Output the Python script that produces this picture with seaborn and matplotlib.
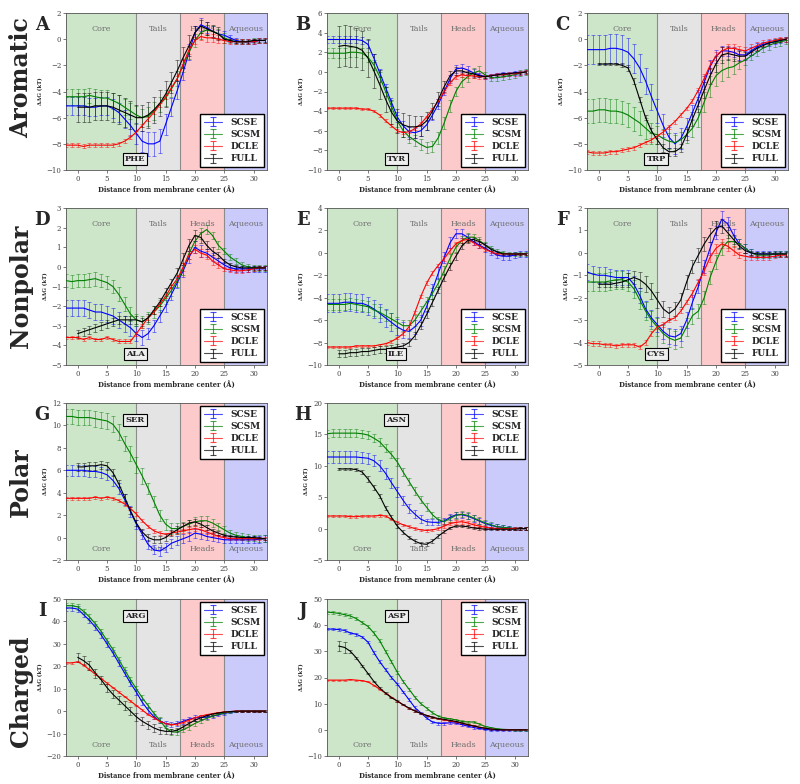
import numpy as np
import pandas as pd
import matplotlib
matplotlib.use("Agg")
import matplotlib.pyplot as plt
import seaborn as sns

# positions along the membrane normal (A); FULL runs start at the center
X_SIDE = list(range(-2, 33))
X_FULL = list(range(0, 33))
MODELS = ["SCSE", "SCSM", "DCLE", "FULL"]
COLORS = {"SCSE": "#0000ff", "SCSM": "#008000", "DCLE": "#ff0000", "FULL": "#000000"}

# ---- PHE ----
PHE_SCSE = [-5.1, -5.1, -5.1, -5.1, -5.2, -5.2, -5.1, -5.1, -5.3, -5.6,
            -6.1, -6.6, -7.2, -7.8, -8.0, -8.0, -7.8, -6.5, -5.2, -3.9,
            -2.5, -1.0, 0.5, 1.1, 0.9, 0.6, 0.4, 0.3, 0.1, -0.1,
            -0.2, -0.2, -0.2, -0.1, -0.1]
PHE_SCSE_ERR = [0.7, 0.7, 0.7, 0.7, 0.7, 0.7, 0.7, 0.7, 0.7, 0.7,
                0.7, 0.8, 0.8, 0.8, 0.9, 0.9, 0.9, 0.8, 0.7, 0.7,
                0.6, 0.6, 0.5, 0.5, 0.4, 0.4, 0.3, 0.3, 0.2, 0.2,
                0.2, 0.2, 0.2, 0.2, 0.2]
PHE_SCSM = [-4.4, -4.4, -4.4, -4.4, -4.3, -4.4, -4.5, -4.5, -4.7, -4.9,
            -5.2, -5.5, -5.8, -6.0, -5.9, -5.5, -5.0, -4.5, -3.8, -3.0,
            -2.0, -1.0, -0.1, 0.5, 0.7, 0.6, 0.4, 0.1, -0.1, -0.2,
            -0.2, -0.2, -0.1, -0.1, -0.1]
PHE_SCSM_ERR = [0.6, 0.6, 0.6, 0.6, 0.6, 0.6, 0.6, 0.6, 0.6, 0.6,
                0.6, 0.6, 0.7, 0.7, 0.7, 0.7, 0.6, 0.6, 0.6, 0.6,
                0.5, 0.5, 0.5, 0.5, 0.4, 0.4, 0.4, 0.4, 0.2, 0.2,
                0.2, 0.2, 0.2, 0.2, 0.2]
PHE_DCLE = [-8.1, -8.1, -8.1, -8.2, -8.1, -8.1, -8.1, -8.1, -8.1, -8.0,
            -7.8, -7.5, -7.1, -6.6, -6.1, -5.6, -5.0, -4.4, -3.7, -3.0,
            -1.9, -0.8, -0.1, 0.2, 0.1, 0.1, 0.0, -0.1, -0.2, -0.2,
            -0.2, -0.2, -0.2, -0.1, -0.1]
PHE_DCLE_ERR = [0.15, 0.15, 0.15, 0.15, 0.15, 0.15, 0.15, 0.15, 0.15, 0.15,
                0.15, 0.15, 0.15, 0.15, 0.15, 0.15, 0.15, 0.15, 0.15, 0.15,
                0.3, 0.3, 0.3, 0.3, 0.3, 0.3, 0.3, 0.2, 0.2, 0.2,
                0.2, 0.2, 0.2, 0.2, 0.2]
PHE_FULL = [-5.2, -5.2, -5.2, -5.1, -5.1, -5.1, -5.2, -5.4, -5.6, -5.8,
            -6.0, -6.0, -5.8, -5.4, -4.9, -4.2, -3.3, -2.4, -1.4, -0.5,
            0.5, 1.0, 0.8, 0.6, 0.4, 0.0, -0.1, -0.2, -0.2, -0.2,
            -0.1, -0.1, -0.1]
PHE_FULL_ERR = [1.1, 1.1, 1.1, 1.1, 1.1, 1.1, 1.1, 1.1, 1.1, 1.1,
                1.0, 1.0, 1.0, 1.0, 1.0, 1.0, 0.8, 0.8, 0.8, 0.8,
                0.5, 0.5, 0.5, 0.5, 0.5, 0.1, 0.1, 0.1, 0.1, 0.1,
                0.1, 0.1, 0.1]

# ---- TYR ----
TYR_SCSE = [3.3, 3.3, 3.3, 3.3, 3.3, 3.3, 3.2, 2.8, 1.4, -0.1,
            -1.6, -3.1, -4.6, -5.5, -6.1, -6.2, -6.0, -5.4, -4.4, -3.3,
            -2.0, -0.7, 0.3, 0.4, 0.2, -0.1, -0.3, -0.5, -0.4, -0.3,
            -0.2, -0.2, -0.1, -0.1, 0.0]
TYR_SCSE_ERR = [0.4, 0.4, 0.4, 0.4, 0.4, 0.4, 0.4, 0.4, 0.4, 0.4,
                0.4, 0.4, 0.5, 0.5, 0.5, 0.5, 0.5, 0.5, 0.5, 0.5,
                0.4, 0.4, 0.4, 0.4, 0.4, 0.4, 0.2, 0.2, 0.2, 0.2,
                0.2, 0.2, 0.2, 0.2, 0.2]
TYR_SCSM = [1.9, 1.9, 1.9, 1.9, 2.0, 2.0, 1.9, 1.5, 0.7, -0.5,
            -2.0, -3.5, -5.0, -6.0, -6.6, -7.0, -7.4, -7.7, -7.6, -6.7,
            -5.2, -3.5, -2.0, -1.0, -0.5, -0.1, 0.1, -0.3, -0.6, -0.6,
            -0.5, -0.4, -0.3, -0.1, 0.0]
TYR_SCSM_ERR = [0.5, 0.5, 0.5, 0.5, 0.5, 0.5, 0.5, 0.5, 0.5, 0.5,
                0.5, 0.5, 0.6, 0.6, 0.6, 0.6, 0.6, 0.6, 0.6, 0.6,
                0.6, 0.6, 0.5, 0.5, 0.5, 0.5, 0.5, 0.3, 0.3, 0.3,
                0.3, 0.3, 0.3, 0.3, 0.3]
TYR_DCLE = [-3.7, -3.7, -3.7, -3.7, -3.7, -3.7, -3.8, -3.8, -4.0, -4.4,
            -5.0, -5.5, -6.0, -6.2, -6.1, -5.8, -5.3, -4.6, -3.8, -3.0,
            -2.0, -1.1, -0.5, -0.3, -0.4, -0.4, -0.5, -0.5, -0.4, -0.3,
            -0.3, -0.2, -0.2, -0.1, 0.0]
TYR_DCLE_ERR = [0.1, 0.1, 0.1, 0.1, 0.1, 0.1, 0.1, 0.1, 0.1, 0.15,
                0.15, 0.15, 0.15, 0.15, 0.15, 0.15, 0.15, 0.15, 0.15, 0.2,
                0.2, 0.2, 0.2, 0.2, 0.2, 0.2, 0.2, 0.2, 0.2, 0.2,
                0.2, 0.2, 0.2, 0.2, 0.2]
TYR_FULL = [2.6, 2.7, 2.6, 2.5, 2.2, 1.4, 0.1, -1.3, -2.8, -4.1,
            -5.0, -5.4, -5.6, -5.6, -5.5, -5.0, -4.0, -2.8, -1.5, -0.4,
            0.1, 0.1, -0.1, -0.2, -0.4, -0.5, -0.4, -0.3, -0.2, -0.2,
            -0.1, -0.1, 0.0]
TYR_FULL_ERR = [2.1, 2.1, 2.1, 2.0, 2.0, 1.9, 1.7, 1.5, 1.3, 1.2,
                1.2, 1.2, 1.2, 1.1, 1.0, 0.9, 0.8, 0.7, 0.6, 0.5,
                0.4, 0.3, 0.2, 0.2, 0.1, 0.1, 0.1, 0.1, 0.1, 0.1,
                0.1, 0.1, 0.1]

# ---- TRP ----
TRP_SCSE = [-0.8, -0.8, -0.8, -0.8, -0.7, -0.7, -0.8, -1.0, -1.5, -2.2,
            -3.2, -4.4, -5.5, -6.6, -7.5, -8.0, -7.6, -6.7, -5.6, -4.5,
            -3.3, -2.1, -1.3, -0.9, -0.9, -1.0, -1.2, -1.2, -0.9, -0.6,
            -0.4, -0.3, -0.2, -0.1, 0.0]
TRP_SCSE_ERR = [1.1, 1.1, 1.1, 1.1, 1.1, 1.1, 1.1, 1.1, 1.1, 1.1,
                1.0, 1.0, 0.9, 0.9, 0.8, 0.8, 0.8, 0.7, 0.6, 0.6,
                0.5, 0.5, 0.5, 0.4, 0.4, 0.4, 0.4, 0.3, 0.3, 0.3,
                0.2, 0.2, 0.2, 0.2, 0.2]
TRP_SCSM = [-5.5, -5.5, -5.4, -5.4, -5.5, -5.5, -5.6, -5.8, -6.1, -6.4,
            -6.8, -7.2, -7.3, -7.6, -7.8, -7.9, -7.7, -7.3, -6.8, -6.0,
            -4.8, -3.6, -2.8, -2.4, -2.2, -2.1, -1.8, -1.6, -1.3, -1.0,
            -0.7, -0.5, -0.3, -0.2, -0.1]
TRP_SCSM_ERR = [0.9, 0.9, 0.9, 0.9, 0.9, 0.9, 0.9, 0.9, 0.9, 0.9,
                0.8, 0.8, 0.7, 0.7, 0.6, 0.6, 0.6, 0.6, 0.7, 0.7,
                0.8, 0.8, 0.8, 0.8, 0.7, 0.6, 0.5, 0.4, 0.3, 0.3,
                0.3, 0.3, 0.3, 0.3, 0.3]
TRP_DCLE = [-8.6, -8.7, -8.7, -8.7, -8.6, -8.6, -8.5, -8.4, -8.3, -8.1,
            -7.9, -7.7, -7.4, -7.1, -6.7, -6.3, -5.8, -5.3, -4.7, -3.9,
            -3.0, -2.0, -1.3, -0.9, -0.7, -0.7, -0.8, -0.9, -0.7, -0.5,
            -0.3, -0.2, -0.1, 0.0, 0.0]
TRP_DCLE_ERR = [0.15, 0.15, 0.15, 0.15, 0.15, 0.15, 0.15, 0.15, 0.15, 0.15,
                0.15, 0.15, 0.15, 0.15, 0.15, 0.15, 0.15, 0.15, 0.15, 0.15,
                0.3, 0.3, 0.3, 0.3, 0.3, 0.3, 0.3, 0.3, 0.3, 0.3,
                0.2, 0.2, 0.2, 0.2, 0.2]
TRP_FULL = [-1.9, -1.9, -1.9, -1.9, -2.0, -2.2, -3.2, -4.6, -6.0, -7.0,
            -7.7, -8.3, -8.6, -8.6, -8.3, -7.3, -6.1, -5.0, -3.9, -2.8,
            -1.9, -1.2, -1.1, -1.2, -1.3, -1.3, -1.0, -0.7, -0.5, -0.3,
            -0.2, -0.1, 0.0]
TRP_FULL_ERR = [0.1, 0.1, 0.1, 0.1, 0.15, 0.2, 0.2, 0.2, 0.2, 0.2,
                0.3, 0.3, 0.3, 0.3, 0.3, 0.4, 0.5, 0.6, 0.6, 0.6,
                0.6, 0.6, 0.5, 0.5, 0.4, 0.3, 0.2, 0.2, 0.1, 0.1,
                0.1, 0.1, 0.1]

# ---- ALA ----
ALA_SCSE = [-2.1, -2.1, -2.1, -2.1, -2.2, -2.3, -2.3, -2.4, -2.5, -2.7,
            -2.9, -3.1, -3.4, -3.6, -3.4, -3.0, -2.5, -2.0, -1.4, -0.8,
            -0.2, 0.5, 1.0, 0.8, 0.7, 0.5, 0.3, 0.1, -0.05, -0.1,
            -0.1, -0.1, -0.1, -0.1, -0.1]
ALA_SCSE_ERR = [0.4, 0.4, 0.4, 0.4, 0.4, 0.4, 0.4, 0.4, 0.4, 0.4,
                0.4, 0.4, 0.4, 0.4, 0.3, 0.3, 0.3, 0.3, 0.3, 0.3,
                0.3, 0.3, 0.3, 0.3, 0.2, 0.2, 0.15, 0.15, 0.15, 0.15,
                0.15, 0.15, 0.15, 0.15, 0.15]
ALA_SCSM = [-0.7, -0.75, -0.7, -0.7, -0.65, -0.6, -0.7, -0.8, -1.0, -1.4,
            -1.9, -2.4, -2.7, -2.8, -2.6, -2.3, -2.0, -1.6, -1.2, -0.7,
            -0.1, 0.7, 1.3, 1.7, 1.9, 1.6, 1.1, 0.8, 0.5, 0.3,
            0.1, 0.0, -0.05, -0.05, -0.05]
ALA_SCSM_ERR = [0.35, 0.35, 0.35, 0.35, 0.35, 0.35, 0.35, 0.35, 0.35, 0.35,
                0.35, 0.35, 0.3, 0.3, 0.3, 0.3, 0.3, 0.3, 0.3, 0.3,
                0.3, 0.3, 0.3, 0.3, 0.25, 0.2, 0.2, 0.15, 0.15, 0.15,
                0.15, 0.15, 0.15, 0.15, 0.15]
ALA_DCLE = [-3.6, -3.6, -3.6, -3.7, -3.6, -3.7, -3.7, -3.6, -3.7, -3.8,
            -3.8, -3.8, -3.4, -3.0, -2.6, -2.3, -1.9, -1.5, -1.0, -0.6,
            0.0, 0.6, 0.9, 0.7, 0.6, 0.3, 0.1, -0.1, -0.15, -0.2,
            -0.2, -0.15, -0.1, -0.05, -0.05]
ALA_DCLE_ERR = [0.1, 0.1, 0.1, 0.1, 0.1, 0.1, 0.1, 0.1, 0.1, 0.1,
                0.1, 0.1, 0.1, 0.1, 0.1, 0.1, 0.1, 0.1, 0.1, 0.15,
                0.2, 0.2, 0.2, 0.2, 0.2, 0.2, 0.15, 0.1, 0.1, 0.1,
                0.1, 0.1, 0.1, 0.1, 0.1]
ALA_FULL = [-3.4, -3.3, -3.2, -3.1, -3.0, -2.9, -2.8, -2.7, -2.7, -2.7,
            -2.7, -2.8, -2.6, -2.2, -1.8, -1.3, -0.8, -0.3, 0.4, 1.1,
            1.6, 1.5, 1.1, 0.8, 0.6, 0.3, 0.1, 0.0, -0.05, -0.05,
            -0.05, -0.05, -0.05]
ALA_FULL_ERR = [0.2, 0.2, 0.2, 0.2, 0.2, 0.2, 0.2, 0.2, 0.2, 0.2,
                0.2, 0.2, 0.2, 0.2, 0.2, 0.2, 0.2, 0.25, 0.3, 0.3,
                0.3, 0.3, 0.2, 0.2, 0.15, 0.1, 0.1, 0.1, 0.1, 0.1,
                0.1, 0.1, 0.1]

# ---- ILE ----
ILE_SCSE = [-4.5, -4.5, -4.5, -4.4, -4.4, -4.5, -4.5, -4.7, -5.0, -5.4,
            -5.8, -6.2, -6.6, -6.9, -7.0, -6.6, -6.0, -4.8, -3.3, -1.8,
            -0.4, 0.9, 1.7, 1.7, 1.4, 1.0, 0.7, 0.4, 0.1, -0.2,
            -0.3, -0.3, -0.2, -0.1, -0.1]
ILE_SCSE_ERR = [0.8, 0.8, 0.8, 0.8, 0.8, 0.8, 0.8, 0.8, 0.8, 0.8,
                0.8, 0.8, 0.7, 0.7, 0.6, 0.6, 0.5, 0.5, 0.5, 0.5,
                0.5, 0.5, 0.4, 0.4, 0.3, 0.3, 0.3, 0.3, 0.3, 0.3,
                0.3, 0.3, 0.3, 0.3, 0.3]
ILE_SCSM = [-4.6, -4.6, -4.6, -4.6, -4.5, -4.6, -4.7, -4.8, -5.1, -5.3,
            -5.6, -5.9, -6.2, -6.5, -6.5, -6.0, -5.2, -4.4, -3.6, -2.7,
            -1.6, -0.5, 0.5, 1.1, 1.4, 1.4, 1.1, 0.7, 0.4, 0.1,
            0.0, -0.1, -0.1, -0.1, -0.1]
ILE_SCSM_ERR = [0.5, 0.5, 0.5, 0.5, 0.5, 0.5, 0.5, 0.5, 0.5, 0.5,
                0.5, 0.5, 0.5, 0.5, 0.5, 0.5, 0.5, 0.5, 0.5, 0.5,
                0.4, 0.4, 0.4, 0.4, 0.4, 0.3, 0.3, 0.3, 0.2, 0.2,
                0.2, 0.2, 0.2, 0.2, 0.2]
ILE_DCLE = [-8.4, -8.4, -8.4, -8.4, -8.4, -8.3, -8.3, -8.3, -8.3, -8.2,
            -8.1, -7.9, -7.6, -7.2, -6.6, -5.3, -3.9, -2.7, -1.8, -1.1,
            -0.5, 0.2, 0.8, 1.1, 1.2, 0.9, 0.6, 0.3, 0.1, -0.1,
            -0.1, -0.1, -0.1, -0.1, -0.1]
ILE_DCLE_ERR = [0.1, 0.1, 0.1, 0.1, 0.1, 0.1, 0.1, 0.1, 0.1, 0.1,
                0.1, 0.1, 0.1, 0.1, 0.15, 0.15, 0.15, 0.15, 0.15, 0.15,
                0.2, 0.2, 0.2, 0.2, 0.2, 0.2, 0.15, 0.15, 0.1, 0.1,
                0.1, 0.1, 0.1, 0.1, 0.1]
ILE_FULL = [-9.0, -9.0, -8.9, -8.9, -8.8, -8.8, -8.7, -8.6, -8.6, -8.5,
            -8.4, -8.3, -8.0, -7.4, -6.5, -5.5, -4.4, -3.3, -2.2, -1.2,
            -0.3, 0.6, 1.1, 1.2, 1.0, 0.7, 0.3, 0.1, -0.1, -0.1,
            -0.1, -0.1, -0.1]
ILE_FULL_ERR = [0.3, 0.3, 0.3, 0.3, 0.3, 0.3, 0.3, 0.3, 0.3, 0.3,
                0.3, 0.3, 0.3, 0.3, 0.3, 0.3, 0.3, 0.3, 0.3, 0.3,
                0.3, 0.3, 0.2, 0.2, 0.2, 0.2, 0.15, 0.1, 0.1, 0.1,
                0.1, 0.1, 0.1]

# ---- CYS ----
CYS_SCSE = [-0.85, -0.95, -1.0, -1.0, -1.05, -1.1, -1.1, -1.1, -1.4, -1.9,
            -2.5, -2.9, -3.2, -3.5, -3.7, -3.75, -3.6, -3.0, -2.2, -1.5,
            -0.6, 0.2, 0.9, 1.5, 1.3, 0.8, 0.4, 0.2, 0.0, -0.05,
            -0.05, -0.05, -0.05, -0.05, -0.05]
CYS_SCSE_ERR = [0.35, 0.35, 0.35, 0.35, 0.35, 0.35, 0.35, 0.35, 0.35, 0.35,
                0.35, 0.35, 0.35, 0.35, 0.35, 0.35, 0.35, 0.35, 0.3, 0.3,
                0.3, 0.3, 0.3, 0.35, 0.3, 0.25, 0.2, 0.2, 0.15, 0.15,
                0.15, 0.15, 0.15, 0.15, 0.15]
CYS_SCSM = [-1.3, -1.3, -1.3, -1.3, -1.25, -1.2, -1.2, -1.3, -1.6, -2.1,
            -2.6, -3.0, -3.3, -3.6, -3.8, -3.9, -3.8, -3.3, -2.8, -2.6,
            -2.0, -1.1, -0.4, 0.2, 0.5, 0.5, 0.4, 0.2, 0.0, -0.1,
            -0.1, -0.1, -0.05, -0.05, -0.05]
CYS_SCSM_ERR = [0.4, 0.4, 0.4, 0.4, 0.4, 0.4, 0.4, 0.4, 0.4, 0.4,
                0.4, 0.4, 0.4, 0.4, 0.4, 0.4, 0.4, 0.4, 0.35, 0.3,
                0.3, 0.3, 0.3, 0.3, 0.3, 0.25, 0.2, 0.2, 0.15, 0.15,
                0.15, 0.15, 0.15, 0.15, 0.15]
CYS_DCLE = [-4.0, -4.05, -4.05, -4.1, -4.1, -4.15, -4.1, -4.1, -4.1, -4.2,
            -4.0, -3.6, -3.3, -3.2, -3.0, -2.9, -2.6, -2.2, -1.8, -1.3,
            -0.8, -0.2, 0.2, 0.4, 0.3, 0.1, -0.1, -0.15, -0.2, -0.2,
            -0.2, -0.2, -0.15, -0.1, -0.1]
CYS_DCLE_ERR = [0.1, 0.1, 0.1, 0.1, 0.1, 0.1, 0.1, 0.1, 0.1, 0.1,
                0.1, 0.1, 0.1, 0.1, 0.1, 0.1, 0.1, 0.1, 0.15, 0.15,
                0.2, 0.2, 0.2, 0.2, 0.2, 0.2, 0.15, 0.15, 0.1, 0.1,
                0.1, 0.1, 0.1, 0.1, 0.1]
CYS_FULL = [-1.4, -1.4, -1.4, -1.35, -1.3, -1.2, -1.1, -1.2, -1.4, -1.7,
            -2.1, -2.5, -2.7, -2.5, -2.1, -1.3, -0.6, -0.1, 0.4, 0.8,
            1.1, 1.2, 0.9, 0.6, 0.3, 0.1, 0.0, -0.05, -0.05, -0.05,
            -0.05, -0.05, -0.05]
CYS_FULL_ERR = [0.1, 0.1, 0.1, 0.15, 0.2, 0.3, 0.3, 0.35, 0.35, 0.35,
                0.35, 0.35, 0.3, 0.3, 0.3, 0.3, 0.3, 0.3, 0.3, 0.3,
                0.3, 0.3, 0.25, 0.2, 0.15, 0.1, 0.1, 0.1, 0.1, 0.1,
                0.1, 0.1, 0.1]

# ---- SER ----
SER_SCSE = [6.0, 6.0, 6.0, 6.0, 5.9, 5.9, 5.8, 5.6, 5.1, 4.4,
            3.4, 2.3, 1.2, 0.3, -0.6, -1.1, -1.2, -0.9, -0.5, -0.3,
            -0.1, 0.1, 0.4, 0.3, 0.1, 0.0, -0.1, -0.2, -0.2, -0.2,
            -0.2, -0.2, -0.2, -0.15, -0.1]
SER_SCSE_ERR = [0.5, 0.5, 0.5, 0.5, 0.5, 0.5, 0.5, 0.5, 0.5, 0.5,
                0.5, 0.5, 0.4, 0.4, 0.4, 0.4, 0.4, 0.4, 0.4, 0.4,
                0.4, 0.4, 0.4, 0.4, 0.3, 0.3, 0.3, 0.3, 0.3, 0.3,
                0.3, 0.3, 0.3, 0.3, 0.3]
SER_SCSM = [10.8, 10.8, 10.7, 10.7, 10.7, 10.6, 10.5, 10.4, 10.1, 9.4,
            8.4, 7.5, 6.5, 5.5, 4.4, 3.2, 2.0, 1.2, 0.8, 0.8,
            1.0, 1.2, 1.4, 1.5, 1.5, 1.3, 1.0, 0.7, 0.4, 0.2,
            0.1, 0.0, -0.05, -0.1, -0.1]
SER_SCSM_ERR = [0.7, 0.7, 0.7, 0.7, 0.7, 0.7, 0.7, 0.7, 0.7, 0.7,
                0.7, 0.7, 0.7, 0.7, 0.5, 0.5, 0.5, 0.5, 0.5, 0.5,
                0.4, 0.4, 0.4, 0.4, 0.4, 0.4, 0.3, 0.3, 0.3, 0.3,
                0.3, 0.3, 0.3, 0.3, 0.3]
SER_DCLE = [3.5, 3.5, 3.5, 3.5, 3.5, 3.6, 3.5, 3.6, 3.5, 3.3,
            3.0, 2.6, 2.1, 1.5, 1.0, 0.6, 0.4, 0.3, 0.4, 0.5,
            0.6, 0.7, 0.8, 0.7, 0.5, 0.3, 0.1, 0.0, -0.1, -0.1,
            -0.1, -0.1, -0.1, -0.1, -0.1]
SER_DCLE_ERR = [0.15, 0.15, 0.15, 0.15, 0.15, 0.15, 0.15, 0.15, 0.15, 0.15,
                0.15, 0.15, 0.15, 0.15, 0.15, 0.15, 0.15, 0.15, 0.2, 0.2,
                0.2, 0.25, 0.25, 0.25, 0.2, 0.2, 0.15, 0.15, 0.15, 0.15,
                0.15, 0.15, 0.15, 0.15, 0.15]
SER_FULL = [6.3, 6.3, 6.4, 6.4, 6.5, 6.4, 5.8, 4.8, 3.6, 2.4,
            1.3, 0.5, 0.0, -0.2, -0.2, 0.0, 0.4, 0.7, 1.0, 1.3,
            1.4, 1.2, 0.9, 0.6, 0.4, 0.2, 0.1, 0.05, 0.0, 0.0,
            0.0, -0.05, -0.1]
SER_FULL_ERR = [0.35, 0.35, 0.35, 0.35, 0.35, 0.35, 0.3, 0.3, 0.3, 0.3,
                0.3, 0.3, 0.3, 0.3, 0.3, 0.3, 0.3, 0.3, 0.3, 0.3,
                0.3, 0.25, 0.2, 0.2, 0.15, 0.1, 0.1, 0.1, 0.1, 0.1,
                0.1, 0.1, 0.1]

# ---- ASN ----
ASN_SCSE = [11.4, 11.4, 11.4, 11.4, 11.4, 11.4, 11.3, 11.2, 10.8, 10.0,
            8.8, 7.3, 5.9, 4.5, 3.2, 2.3, 1.5, 1.1, 1.0, 1.0,
            1.2, 1.8, 2.2, 2.2, 2.0, 1.6, 1.2, 0.8, 0.5, 0.3,
            0.2, 0.1, 0.0, 0.0, 0.0]
ASN_SCSE_ERR = [0.9, 0.9, 0.9, 0.9, 0.9, 0.9, 0.9, 0.9, 0.9, 0.9,
                0.9, 0.8, 0.8, 0.7, 0.7, 0.6, 0.6, 0.5, 0.5, 0.5,
                0.5, 0.5, 0.5, 0.5, 0.5, 0.5, 0.5, 0.4, 0.4, 0.4,
                0.3, 0.3, 0.3, 0.3, 0.3]
ASN_SCSM = [15.1, 15.2, 15.2, 15.2, 15.2, 15.2, 15.1, 14.9, 14.4, 13.8,
            12.8, 11.8, 10.6, 9.0, 7.5, 6.0, 4.6, 3.4, 2.2, 1.4,
            1.1, 1.6, 2.1, 2.3, 2.1, 1.7, 1.3, 0.9, 0.6, 0.3,
            0.2, 0.1, 0.0, 0.0, 0.0]
ASN_SCSM_ERR = [0.6, 0.6, 0.6, 0.6, 0.6, 0.6, 0.6, 0.6, 0.6, 0.6,
                0.6, 0.6, 0.6, 0.6, 0.6, 0.6, 0.6, 0.6, 0.5, 0.5,
                0.5, 0.5, 0.5, 0.5, 0.5, 0.5, 0.5, 0.4, 0.4, 0.4,
                0.3, 0.3, 0.3, 0.3, 0.3]
ASN_DCLE = [2.0, 2.0, 2.0, 2.0, 1.9, 1.9, 2.0, 2.0, 2.0, 2.1,
            2.0, 1.5, 1.0, 0.6, 0.3, 0.0, -0.2, -0.3, -0.2, 0.0,
            0.4, 0.8, 1.0, 1.1, 0.9, 0.6, 0.4, 0.2, 0.1, 0.0,
            0.0, 0.0, 0.0, 0.0, 0.0]
ASN_DCLE_ERR = [0.2, 0.2, 0.2, 0.2, 0.2, 0.2, 0.2, 0.2, 0.2, 0.2,
                0.2, 0.2, 0.2, 0.2, 0.2, 0.2, 0.2, 0.2, 0.2, 0.2,
                0.3, 0.3, 0.3, 0.3, 0.3, 0.3, 0.2, 0.2, 0.2, 0.2,
                0.2, 0.2, 0.2, 0.2, 0.2]
ASN_FULL = [9.5, 9.5, 9.5, 9.4, 9.0, 7.9, 6.6, 5.2, 3.3, 1.8,
            0.4, -0.6, -1.4, -2.0, -2.4, -2.5, -2.0, -1.2, -0.5, 0.1,
            0.4, 0.4, 0.3, 0.1, 0.0, -0.1, -0.1, -0.1, -0.1, -0.1,
            -0.1, 0.0, 0.0]
ASN_FULL_ERR = [0.2, 0.2, 0.2, 0.2, 0.3, 0.5, 0.4, 0.3, 0.3, 0.3,
                0.3, 0.3, 0.3, 0.3, 0.3, 0.3, 0.3, 0.3, 0.2, 0.2,
                0.2, 0.2, 0.2, 0.2, 0.2, 0.2, 0.2, 0.2, 0.2, 0.2,
                0.2, 0.2, 0.2]

# ---- ARG ----
ARG_SCSE = [46.0, 46.0, 45.5, 43.0, 40.5, 37.5, 34.0, 30.0, 26.0, 21.5,
            17.0, 12.5, 8.5, 4.0, 0.5, -2.5, -4.3, -5.5, -6.0, -5.5,
            -4.5, -3.6, -3.0, -2.8, -2.7, -2.3, -1.6, -1.0, -0.5, -0.2,
            0.0, 0.0, 0.0, 0.0, 0.0]
ARG_SCSE_ERR = [1.2, 1.2, 1.2, 1.2, 1.2, 1.2, 1.2, 1.2, 1.2, 1.2,
                1.2, 1.2, 1.2, 1.2, 1.2, 1.2, 1.2, 1.2, 1.2, 1.2,
                1.2, 1.2, 1.2, 1.0, 1.0, 0.8, 0.6, 0.5, 0.4, 0.3,
                0.3, 0.3, 0.3, 0.3, 0.3]
ARG_SCSM = [47.0, 47.0, 46.5, 44.5, 42.0, 39.0, 35.5, 31.5, 27.5, 23.0,
            18.5, 14.0, 10.0, 6.0, 2.5, -1.0, -4.0, -7.5, -9.3, -9.3,
            -8.3, -7.0, -5.5, -4.3, -3.2, -2.2, -1.4, -0.8, -0.4, -0.2,
            0.0, 0.0, 0.0, 0.0, 0.0]
ARG_SCSM_ERR = [1.2, 1.2, 1.2, 1.2, 1.2, 1.2, 1.2, 1.2, 1.2, 1.2,
                1.2, 1.2, 1.2, 1.2, 1.2, 1.2, 1.2, 1.2, 1.2, 1.2,
                1.2, 1.2, 1.0, 1.0, 0.8, 0.6, 0.5, 0.4, 0.3, 0.3,
                0.3, 0.3, 0.3, 0.3, 0.3]
ARG_DCLE = [21.5, 21.5, 22.0, 20.5, 18.5, 16.5, 14.5, 12.5, 10.5, 8.5,
            6.5, 4.5, 2.5, 0.5, -1.5, -3.0, -4.5, -5.5, -6.0, -5.8,
            -5.0, -4.0, -3.0, -2.2, -1.6, -1.1, -0.7, -0.4, -0.2, 0.0,
            0.0, 0.0, 0.0, 0.0, 0.0]
ARG_DCLE_ERR = [0.3, 0.3, 0.3, 0.3, 0.3, 0.3, 0.3, 0.3, 0.3, 0.3,
                0.3, 0.3, 0.3, 0.3, 0.3, 0.3, 0.3, 0.3, 0.3, 0.3,
                0.3, 0.3, 0.3, 0.3, 0.3, 0.3, 0.3, 0.3, 0.3, 0.3,
                0.3, 0.3, 0.3, 0.3, 0.3]
ARG_FULL = [24.0, 22.5, 20.5, 17.0, 14.0, 10.5, 7.5, 5.0, 2.5, 0.0,
            -2.5, -4.5, -6.0, -7.5, -8.5, -9.0, -9.0, -8.5, -7.0, -5.5,
            -4.0, -3.0, -2.0, -1.3, -0.8, -0.4, -0.2, 0.0, 0.0, 0.0,
            0.0, 0.0, 0.0]
ARG_FULL_ERR = [2.0, 2.0, 2.0, 2.0, 1.8, 1.8, 1.8, 1.8, 1.8, 1.8,
                1.8, 1.8, 1.8, 1.6, 1.5, 1.4, 1.2, 1.0, 0.8, 0.6,
                0.5, 0.4, 0.3, 0.3, 0.2, 0.2, 0.2, 0.2, 0.2, 0.2,
                0.2, 0.2, 0.2]

# ---- ASP ----
ASP_SCSE = [38.5, 38.5, 38.3, 38.0, 37.0, 36.5, 35.5, 33.5, 29.5, 26.0,
            23.0, 20.0, 17.5, 14.5, 11.5, 8.5, 6.5, 4.5, 3.0, 2.5,
            2.5, 2.7, 2.6, 2.0, 1.4, 0.9, 0.5, 0.2, 0.0, -0.1,
            -0.1, 0.0, 0.0, 0.0, 0.0]
ASP_SCSE_ERR = [0.5, 0.5, 0.5, 0.5, 0.5, 0.5, 0.5, 0.5, 0.5, 0.5,
                0.5, 0.5, 0.5, 0.5, 0.5, 0.5, 0.5, 0.5, 0.5, 0.5,
                0.5, 0.5, 0.5, 0.4, 0.4, 0.4, 0.3, 0.3, 0.3, 0.3,
                0.3, 0.3, 0.3, 0.3, 0.3]
ASP_SCSM = [45.0, 44.8, 44.5, 44.0, 43.5, 42.5, 41.0, 39.5, 37.0, 34.0,
            30.0, 26.0, 22.0, 18.5, 15.5, 12.5, 10.0, 8.3, 6.5, 5.2,
            4.5, 4.2, 3.8, 3.2, 3.0, 3.0, 2.2, 1.3, 0.8, 0.4,
            0.2, 0.1, 0.0, 0.0, 0.0]
ASP_SCSM_ERR = [0.6, 0.6, 0.6, 0.6, 0.6, 0.6, 0.6, 0.6, 0.6, 0.6,
                0.6, 0.6, 0.6, 0.6, 0.6, 0.6, 0.6, 0.6, 0.6, 0.6,
                0.5, 0.5, 0.5, 0.5, 0.5, 0.4, 0.4, 0.3, 0.3, 0.3,
                0.3, 0.3, 0.3, 0.3, 0.3]
ASP_DCLE = [19.0, 19.0, 19.0, 19.0, 19.2, 19.0, 18.8, 18.3, 17.0, 15.5,
            14.0, 12.5, 11.0, 9.5, 8.2, 7.2, 6.3, 5.5, 4.8, 4.2,
            3.8, 3.4, 3.0, 2.5, 2.0, 1.5, 1.0, 0.6, 0.3, 0.1,
            0.0, 0.0, 0.0, 0.0, 0.0]
ASP_DCLE_ERR = [0.2, 0.2, 0.2, 0.2, 0.2, 0.2, 0.2, 0.2, 0.2, 0.2,
                0.2, 0.2, 0.2, 0.2, 0.2, 0.2, 0.2, 0.2, 0.2, 0.2,
                0.2, 0.2, 0.2, 0.2, 0.2, 0.2, 0.2, 0.2, 0.2, 0.2,
                0.2, 0.2, 0.2, 0.2, 0.2]
ASP_FULL = [32.0, 31.5, 30.0, 27.5, 24.5, 21.5, 18.5, 16.0, 14.0, 12.3,
            11.0, 9.6, 8.3, 7.2, 6.3, 5.5, 4.8, 4.3, 4.0, 3.6,
            3.2, 2.6, 2.0, 1.5, 1.0, 0.6, 0.3, 0.1, 0.0, 0.0,
            0.0, 0.0, 0.0]
ASP_FULL_ERR = [2.0, 2.0, 0.6, 0.4, 0.3, 0.3, 0.3, 0.3, 0.3, 0.3,
                0.3, 0.3, 0.3, 0.3, 0.3, 0.3, 0.3, 0.3, 0.3, 0.3,
                0.3, 0.3, 0.2, 0.2, 0.2, 0.2, 0.2, 0.2, 0.2, 0.2,
                0.2, 0.2, 0.2]

ROW_NAMES = ["Aromatic", "Nonpolar", "Polar", "Charged"]
ROW_NAME_Y = [78, 286, 482, 691]  # pixel centres of the row titles

# letter, residue, row, col, ylim, ystep, series
PANELS = [
    ("A", "PHE", 0, 0, (-10, 2), 2, {"SCSE": (PHE_SCSE, PHE_SCSE_ERR), "SCSM": (PHE_SCSM, PHE_SCSM_ERR),
                                     "DCLE": (PHE_DCLE, PHE_DCLE_ERR), "FULL": (PHE_FULL, PHE_FULL_ERR)}),
    ("B", "TYR", 0, 1, (-10, 6), 2, {"SCSE": (TYR_SCSE, TYR_SCSE_ERR), "SCSM": (TYR_SCSM, TYR_SCSM_ERR),
                                     "DCLE": (TYR_DCLE, TYR_DCLE_ERR), "FULL": (TYR_FULL, TYR_FULL_ERR)}),
    ("C", "TRP", 0, 2, (-10, 2), 2, {"SCSE": (TRP_SCSE, TRP_SCSE_ERR), "SCSM": (TRP_SCSM, TRP_SCSM_ERR),
                                     "DCLE": (TRP_DCLE, TRP_DCLE_ERR), "FULL": (TRP_FULL, TRP_FULL_ERR)}),
    ("D", "ALA", 1, 0, (-5, 3), 1, {"SCSE": (ALA_SCSE, ALA_SCSE_ERR), "SCSM": (ALA_SCSM, ALA_SCSM_ERR),
                                    "DCLE": (ALA_DCLE, ALA_DCLE_ERR), "FULL": (ALA_FULL, ALA_FULL_ERR)}),
    ("E", "ILE", 1, 1, (-10, 4), 2, {"SCSE": (ILE_SCSE, ILE_SCSE_ERR), "SCSM": (ILE_SCSM, ILE_SCSM_ERR),
                                     "DCLE": (ILE_DCLE, ILE_DCLE_ERR), "FULL": (ILE_FULL, ILE_FULL_ERR)}),
    ("F", "CYS", 1, 2, (-5, 2), 1, {"SCSE": (CYS_SCSE, CYS_SCSE_ERR), "SCSM": (CYS_SCSM, CYS_SCSM_ERR),
                                    "DCLE": (CYS_DCLE, CYS_DCLE_ERR), "FULL": (CYS_FULL, CYS_FULL_ERR)}),
    ("G", "SER", 2, 0, (-2, 12), 2, {"SCSE": (SER_SCSE, SER_SCSE_ERR), "SCSM": (SER_SCSM, SER_SCSM_ERR),
                                     "DCLE": (SER_DCLE, SER_DCLE_ERR), "FULL": (SER_FULL, SER_FULL_ERR)}),
    ("H", "ASN", 2, 1, (-5, 20), 5, {"SCSE": (ASN_SCSE, ASN_SCSE_ERR), "SCSM": (ASN_SCSM, ASN_SCSM_ERR),
                                     "DCLE": (ASN_DCLE, ASN_DCLE_ERR), "FULL": (ASN_FULL, ASN_FULL_ERR)}),
    ("I", "ARG", 3, 0, (-20, 50), 10, {"SCSE": (ARG_SCSE, ARG_SCSE_ERR), "SCSM": (ARG_SCSM, ARG_SCSM_ERR),
                                       "DCLE": (ARG_DCLE, ARG_DCLE_ERR), "FULL": (ARG_FULL, ARG_FULL_ERR)}),
    ("J", "ASP", 3, 1, (-10, 50), 10, {"SCSE": (ASP_SCSE, ASP_SCSE_ERR), "SCSM": (ASP_SCSM, ASP_SCSM_ERR),
                                       "DCLE": (ASP_DCLE, ASP_DCLE_ERR), "FULL": (ASP_FULL, ASP_FULL_ERR)}),
]

# membrane regions: span, name, fill colour (opaque tints)
BANDS = [(-3, 10, "Core", "#cde5c9"), (10, 17.5, "Tails", "#e4e4e4"),
         (17.5, 25, "Heads", "#fccaca"), (25, 34, "Aqueous", "#cacafb")]
BAND_LABEL_X = [4, 13.75, 21.25, 28.65]
XLIM = (-2, 32.3)

sns.set_theme(style="ticks")
plt.rcParams["font.family"] = ["DejaVu Serif"]
plt.rcParams["mathtext.fontset"] = "dejavuserif"

fig = plt.figure(figsize=(8, 7.84), dpi=100)
COL_LEFT = [66, 327, 587]
ROW_TOP = [13, 208, 403, 599]
AX_W, AX_H = 201, 157


def draw_panel(ax, letter, residue, ylim, ystep, series, top_row):
    for (lo, hi, name, col), lx in zip(BANDS, BAND_LABEL_X):
        ax.axvspan(lo, hi, color=col, lw=0, zorder=0)
        ax.text(lx, 0.9 if top_row else 0.07, name, transform=ax.get_xaxis_transform(),
                ha="center", va="center", fontsize=5.8, color="#707070", zorder=1)
    for b in [10, 17.5, 25]:
        ax.axvline(b, color="#8c8c8c", lw=0.8, zorder=0.5)

    frames = []
    for m in MODELS:
        xs = X_FULL if m == "FULL" else X_SIDE
        frames.append(pd.DataFrame({"x": xs, "dG": series[m][0], "model": m}))
    df = pd.concat(frames, ignore_index=True)

    for m in MODELS:
        xs = X_FULL if m == "FULL" else X_SIDE
        ax.errorbar(xs, series[m][0], yerr=series[m][1], fmt="none", ecolor=COLORS[m],
                    elinewidth=0.5, capsize=1.3, capthick=0.5, alpha=0.65, zorder=2)
    sns.lineplot(data=df, x="x", y="dG", hue="model", hue_order=MODELS, palette=COLORS,
                 lw=0.8, legend=False, errorbar=None, ax=ax, zorder=3)

    # proxy handles so the legend shows the errorbar glyph
    handles = [ax.errorbar([np.nan], [np.nan], yerr=[np.nan], color=COLORS[m], lw=0.8,
                           elinewidth=0.8, capsize=2.5, capthick=0.8, alpha=0.7) for m in MODELS]
    leg = ax.legend(handles, MODELS, loc="lower right" if top_row else "upper right",
                    prop={"weight": "bold", "size": 6.5, "family": "DejaVu Serif"},
                    fancybox=False, edgecolor="black", framealpha=1, handlelength=2.0,
                    borderpad=0.4, labelspacing=0.35, handletextpad=0.9, borderaxespad=0.35)
    leg.get_frame().set_linewidth(1.0)

    ax.text(9.8, 0.07 if top_row else 0.89, residue, transform=ax.get_xaxis_transform(),
            ha="center", va="center", fontsize=6, fontweight="bold", zorder=5,
            bbox=dict(boxstyle="square,pad=0.25", fc="#eeeeee", ec="black", lw=0.8))
    ax.text(-0.12, 0.925, letter, transform=ax.transAxes, ha="center", va="center",
            fontsize=13, fontweight="bold")

    ax.set_xlim(*XLIM)
    ax.set_ylim(*ylim)
    ax.set_xticks(range(0, 31, 5))
    ax.set_yticks(np.arange(ylim[0], ylim[1] + 0.001, ystep))
    ax.set_xlabel("Distance from membrane center (Å)", fontsize=4.9, fontweight="bold", labelpad=2)
    ax.set_ylabel("ΔΔG (kT)", fontsize=3.9, fontweight="bold", labelpad=2)
    ax.tick_params(labelsize=5, colors="#444444", length=2, width=0.5, pad=1.5)
    for sp in ax.spines.values():
        sp.set_color("#555555")
        sp.set_linewidth(0.6)


for letter, residue, row, col, ylim, ystep, series in PANELS:
    left = COL_LEFT[col] / 800
    bottom = 1 - (ROW_TOP[row] + AX_H) / 784
    ax = fig.add_axes([left, bottom, AX_W / 800, AX_H / 784])
    draw_panel(ax, letter, residue, ylim, ystep, series, row < 2)

for name, ypx in zip(ROW_NAMES, ROW_NAME_Y):
    fig.text(0.026, 1 - ypx / 784, name, rotation=90, ha="center", va="center",
             fontsize=17, fontweight="bold")

fig.savefig("out.png", dpi=100)
